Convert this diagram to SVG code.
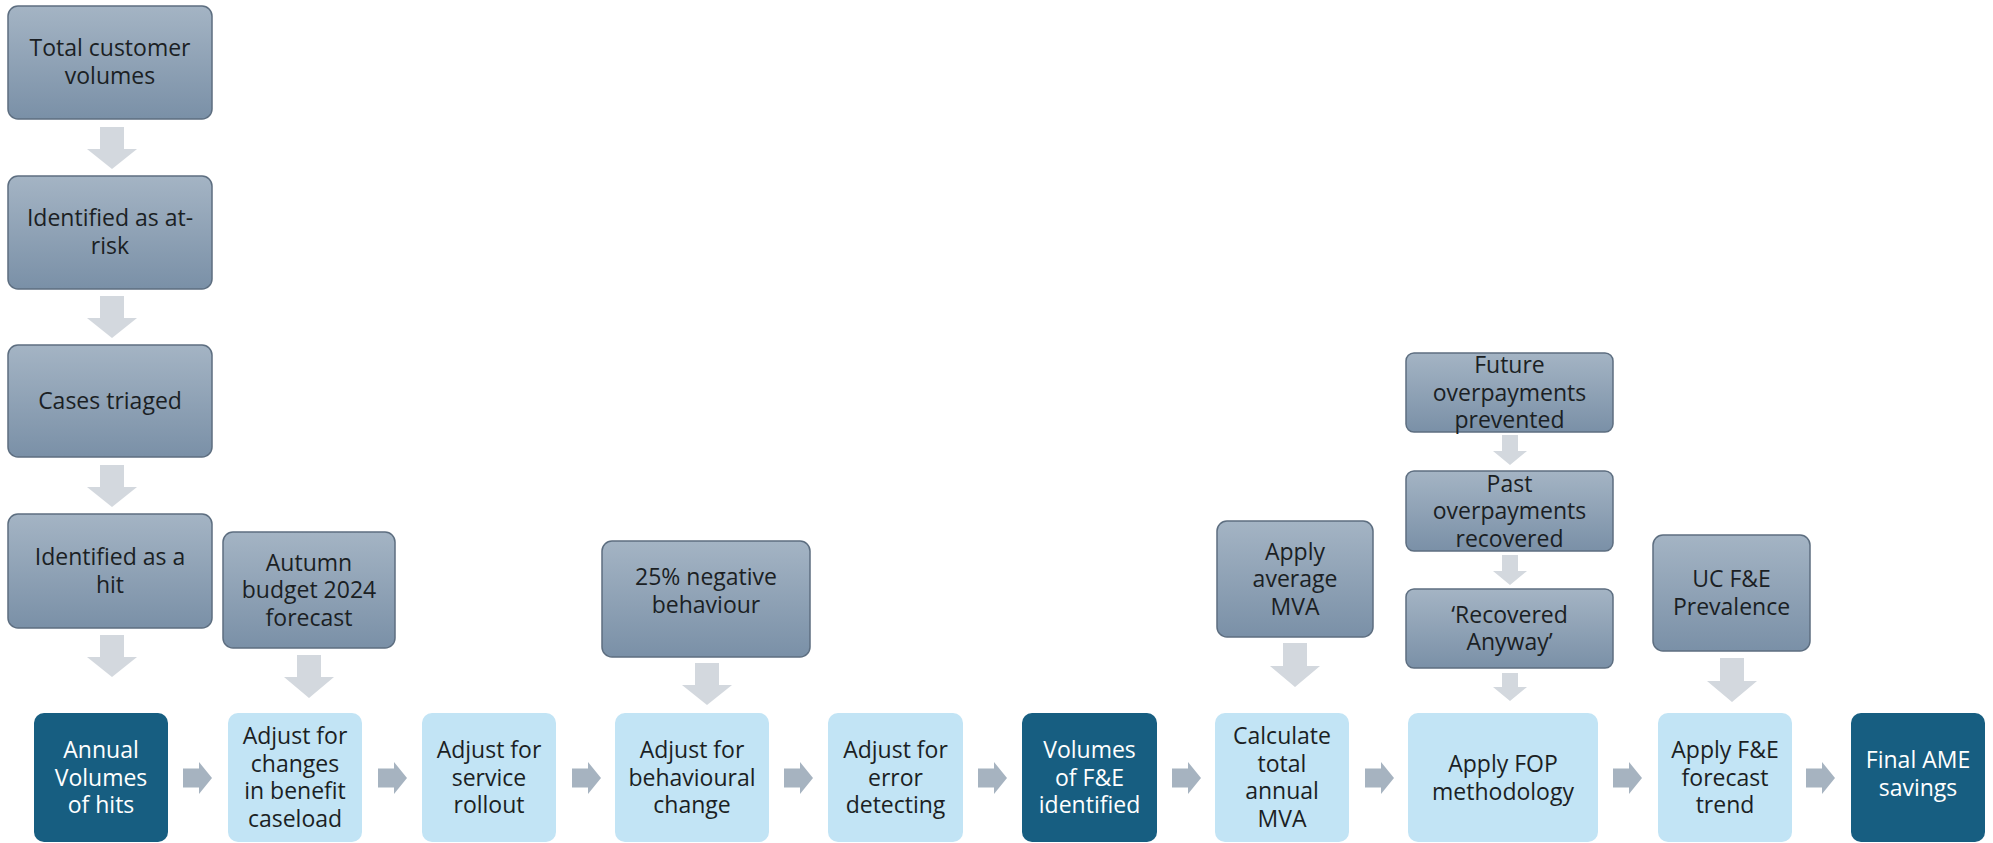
<svg xmlns="http://www.w3.org/2000/svg" width="1993" height="843" viewBox="0 0 1993 843">
<defs>
<linearGradient id="gg" x1="0" y1="0" x2="0" y2="1">
<stop offset="0" stop-color="#a4b4c4"/>
<stop offset="1" stop-color="#7a90a7"/>
</linearGradient>
<style>
.g{fill:url(#gg);stroke:#5d6e80;stroke-width:1.5}
.l{fill:#c2e4f5}
.d{fill:#175e81}
text{font-family:"Open Sans","Noto Sans","Liberation Sans",sans-serif;font-size:23px;text-anchor:middle;fill:#1b1f24}
.w{fill:#ffffff}
.va{fill:#d3d8de}
.ha{fill:#a6b3c0}
</style>
</defs>
<rect width="1993" height="843" fill="#ffffff"/>

<g id="connectors">
<path class="va" d="M100,127 h24 v22 h13 l-25,20 l-25,-20 h13 z"/>
<path class="va" d="M100,296 h24 v22 h13 l-25,20 l-25,-20 h13 z"/>
<path class="va" d="M100,465 h24 v22 h13 l-25,20 l-25,-20 h13 z"/>
<path class="va" d="M100,635 h24 v22 h13 l-25,20 l-25,-20 h13 z"/>
<path class="va" d="M297,655 h24 v22 h13 l-25,21 l-25,-21 h13 z"/>
<path class="va" d="M695,663 h24 v22 h13 l-25,20 l-25,-20 h13 z"/>
<path class="va" d="M1283,643 h24 v23 h13 l-25,21 l-25,-21 h13 z"/>
<path class="va" d="M1720,658 h24 v23 h13 l-25,21 l-25,-21 h13 z"/>
<path class="va" d="M1502,435 h16 v16 h9 l-17,14 l-17,-14 h9 z"/>
<path class="va" d="M1502,555 h16 v16 h9 l-17,14 l-17,-14 h9 z"/>
<path class="va" d="M1502,673 h16 v14 h9 l-17,14 l-17,-14 h9 z"/>
<path class="ha" d="M183,768.5 h16 v-6.5 l13,16 l-13,16 v-6.5 h-16 z"/>
<path class="ha" d="M378,768.5 h16 v-6.5 l13,16 l-13,16 v-6.5 h-16 z"/>
<path class="ha" d="M572,768.5 h16 v-6.5 l13,16 l-13,16 v-6.5 h-16 z"/>
<path class="ha" d="M784,768.5 h16 v-6.5 l13,16 l-13,16 v-6.5 h-16 z"/>
<path class="ha" d="M978,768.5 h16 v-6.5 l13,16 l-13,16 v-6.5 h-16 z"/>
<path class="ha" d="M1172,768.5 h16 v-6.5 l13,16 l-13,16 v-6.5 h-16 z"/>
<path class="ha" d="M1365,768.5 h16 v-6.5 l13,16 l-13,16 v-6.5 h-16 z"/>
<path class="ha" d="M1613,768.5 h16 v-6.5 l13,16 l-13,16 v-6.5 h-16 z"/>
<path class="ha" d="M1806,768.5 h16 v-6.5 l13,16 l-13,16 v-6.5 h-16 z"/>
</g>

<g id="n_total"><rect class="g" x="8" y="6" width="204" height="113" rx="10"/>
<text x="110" y="56">Total customer</text><text x="110" y="83.5">volumes</text></g>
<g id="n_atrisk"><rect class="g" x="8" y="176" width="204" height="113" rx="10"/>
<text x="110" y="226">Identified as at-</text><text x="110" y="253.5">risk</text></g>
<g id="n_triaged"><rect class="g" x="8" y="345" width="204" height="112" rx="10"/>
<text x="110" y="409">Cases triaged</text></g>
<g id="n_hit"><rect class="g" x="8" y="514" width="204" height="114" rx="10"/>
<text x="110" y="565">Identified as a</text><text x="110" y="592.5">hit</text></g>

<g id="n_autumn"><rect class="g" x="223" y="532" width="172" height="116" rx="10"/>
<text x="309" y="570.5">Autumn</text><text x="309" y="598">budget 2024</text><text x="309" y="625.5">forecast</text></g>
<g id="n_neg"><rect class="g" x="602" y="541" width="208" height="116" rx="10"/>
<text x="706" y="585">25% negative</text><text x="706" y="612.5">behaviour</text></g>
<g id="n_mva"><rect class="g" x="1217" y="521" width="156" height="116" rx="10"/>
<text x="1295" y="559.5">Apply</text><text x="1295" y="587">average</text><text x="1295" y="614.5">MVA</text></g>
<g id="n_future"><rect class="g" x="1406" y="353" width="207" height="79" rx="8"/>
<text x="1509.5" y="373">Future</text><text x="1509.5" y="400.5">overpayments</text><text x="1509.5" y="428">prevented</text></g>
<g id="n_past"><rect class="g" x="1406" y="471" width="207" height="80" rx="8"/>
<text x="1509.5" y="491.5">Past</text><text x="1509.5" y="519">overpayments</text><text x="1509.5" y="546.5">recovered</text></g>
<g id="n_anyway"><rect class="g" x="1406" y="589" width="207" height="79" rx="8"/>
<text x="1509.5" y="622.5">‘Recovered</text><text x="1509.5" y="650">Anyway’</text></g>
<g id="n_uc"><rect class="g" x="1653" y="535" width="157" height="116" rx="10"/>
<text x="1731.5" y="587">UC F&amp;E</text><text x="1731.5" y="614.5">Prevalence</text></g>

<g id="n_annual"><rect class="d" x="34" y="713" width="134" height="129" rx="10"/>
<text class="w" x="101" y="758">Annual</text><text class="w" x="101" y="785.5">Volumes</text><text class="w" x="101" y="813">of hits</text></g>
<g id="n_changes"><rect class="l" x="228" y="713" width="134" height="129" rx="10"/>
<text x="295" y="744">Adjust for</text><text x="295" y="771.5">changes</text><text x="295" y="799">in benefit</text><text x="295" y="826.5">caseload</text></g>
<g id="n_service"><rect class="l" x="422" y="713" width="134" height="129" rx="10"/>
<text x="489" y="758">Adjust for</text><text x="489" y="785.5">service</text><text x="489" y="813">rollout</text></g>
<g id="n_behav"><rect class="l" x="615" y="713" width="154" height="129" rx="10"/>
<text x="692" y="758">Adjust for</text><text x="692" y="785.5">behavioural</text><text x="692" y="813">change</text></g>
<g id="n_error"><rect class="l" x="828" y="713" width="135" height="129" rx="10"/>
<text x="895.5" y="758">Adjust for</text><text x="895.5" y="785.5">error</text><text x="895.5" y="813">detecting</text></g>
<g id="n_volfe"><rect class="d" x="1022" y="713" width="135" height="129" rx="10"/>
<text class="w" x="1089.5" y="758">Volumes</text><text class="w" x="1089.5" y="785.5">of F&amp;E</text><text class="w" x="1089.5" y="813">identified</text></g>
<g id="n_calc"><rect class="l" x="1215" y="713" width="134" height="129" rx="10"/>
<text x="1282" y="744">Calculate</text><text x="1282" y="771.5">total</text><text x="1282" y="799">annual</text><text x="1282" y="826.5">MVA</text></g>
<g id="n_fop"><rect class="l" x="1408" y="713" width="190" height="129" rx="10"/>
<text x="1503" y="772">Apply FOP</text><text x="1503" y="799.5">methodology</text></g>
<g id="n_trend"><rect class="l" x="1658" y="713" width="134" height="129" rx="10"/>
<text x="1725" y="758">Apply F&amp;E</text><text x="1725" y="785.5">forecast</text><text x="1725" y="813">trend</text></g>
<g id="n_final"><rect class="d" x="1851" y="713" width="134" height="129" rx="10"/>
<text class="w" x="1918" y="768">Final AME</text><text class="w" x="1918" y="795.5">savings</text></g>
</svg>
